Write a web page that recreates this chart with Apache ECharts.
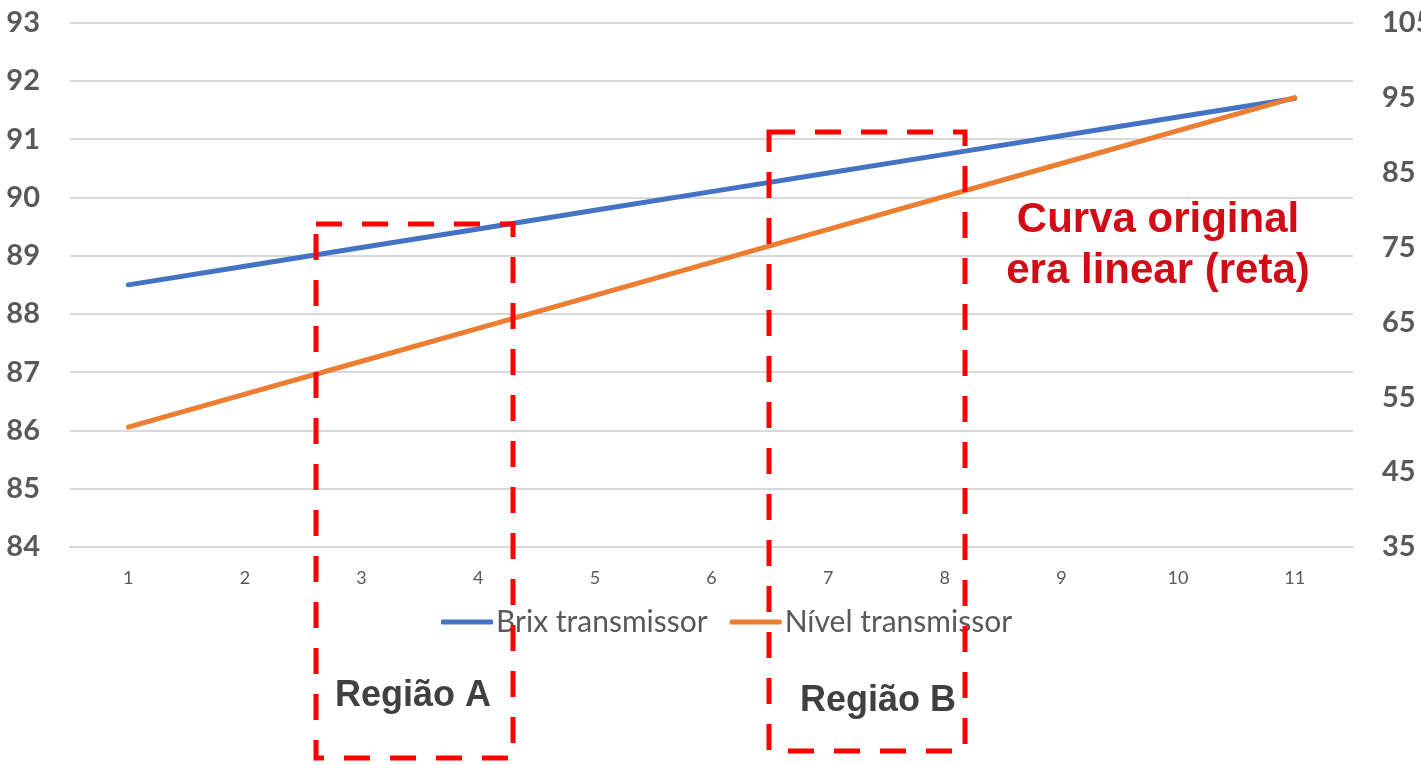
<!DOCTYPE html>
<html>
<head>
<meta charset="utf-8">
<style>
  html, body { margin: 0; padding: 0; background: #fff; }
  #chart { width: 1421px; height: 765px; }
</style>
<script src="https://cdn.jsdelivr.net/npm/echarts@6/dist/echarts.min.js"></script>
</head>
<body>
<div id="chart"></div>
<script>
// Sample index along the x axis
const categories = ['1', '2', '3', '4', '5', '6', '7', '8', '9', '10', '11'];
// Brix transmitter reading (left axis)
const brixValues = [88.5, 88.82, 89.14, 89.46, 89.78, 90.1, 90.42, 90.74, 91.06, 91.38, 91.7];
// Level transmitter reading (right axis)
const nivelValues = [51, 55.4, 59.8, 64.2, 68.6, 73, 77.4, 81.8, 86.2, 90.6, 95];
const seriesNames = ['Brix transmissor', 'Nível transmissor'];
const regionLabels = ['Região A', 'Região B'];
const noteLines = ['Curva original', 'era linear (reta)'];

const chart = echarts.init(document.getElementById('chart'), null, { renderer: 'canvas' });

const axisFont = 'Lato, "Open Sans", sans-serif';
const noteFont = '"Liberation Sans", Arial, sans-serif';
const dashed = { stroke: '#FF0000', lineWidth: 5, lineDash: [26, 20], fill: null };

chart.setOption({
  animation: false,
  backgroundColor: '#ffffff',
  grid: { left: 70, right: 68, top: 22.7, bottom: 218, outerBoundsMode: 'none', containLabel: false },
  legend: {
    data: seriesNames,
    bottom: 123,
    left: 436,
    itemWidth: 52,
    itemHeight: 5,
    itemGap: 22,
    icon: 'roundRect',
    textStyle: { fontFamily: axisFont, fontSize: 30, color: '#595959', padding: [0, 0, 0, -2] }
  },
  xAxis: {
    type: 'category',
    data: categories,
    boundaryGap: true,
    axisLine: { show: true, lineStyle: { color: '#D9D9D9', width: 2 } },
    axisTick: { show: false },
    axisLabel: { color: '#595959', fontFamily: axisFont, fontSize: 18, margin: 22 }
  },
  yAxis: [
    {
      type: 'value',
      min: 84,
      max: 93,
      interval: 1,
      axisLine: { show: false },
      axisTick: { show: false },
      splitLine: { lineStyle: { color: '#D9D9D9', width: 2 } },
      axisLabel: { color: '#595959', fontFamily: axisFont, fontWeight: 'bold', fontSize: 29, margin: 30 }
    },
    {
      type: 'value',
      min: 35,
      max: 105,
      interval: 5,
      position: 'right',
      axisLine: { show: false },
      axisTick: { show: false },
      splitLine: { show: false },
      axisLabel: {
        color: '#595959', fontFamily: axisFont, fontWeight: 'bold', fontSize: 29, margin: 29,
        formatter: v => ((v - 35) % 10 === 0 ? String(v) : '')
      }
    }
  ],
  series: [
    {
      name: seriesNames[0],
      type: 'line',
      yAxisIndex: 0,
      data: brixValues,
      symbol: 'none',
      itemStyle: { color: '#4472C4' },
      lineStyle: { color: '#4472C4', width: 5, cap: 'round' },
      z: 3
    },
    {
      name: seriesNames[1],
      type: 'line',
      yAxisIndex: 1,
      data: nivelValues,
      symbol: 'none',
      itemStyle: { color: '#ED7D31' },
      lineStyle: { color: '#ED7D31', width: 5, cap: 'round' },
      z: 4
    }
  ],
  graphic: [
    { type: 'rect', z: 100, shape: { x: 316, y: 224, width: 197, height: 534 }, style: dashed },
    { type: 'rect', z: 100, shape: { x: 769, y: 132, width: 196, height: 619 }, style: dashed },
    {
      type: 'text', z: 101, x: 413, y: 696,
      style: { text: regionLabels[0], font: 'bold 36px ' + noteFont, fill: '#404040', align: 'center', verticalAlign: 'middle' }
    },
    {
      type: 'text', z: 101, x: 878, y: 701,
      style: { text: regionLabels[1], font: 'bold 36px ' + noteFont, fill: '#404040', align: 'center', verticalAlign: 'middle' }
    },
    {
      type: 'text', z: 101, x: 1158, y: 220,
      style: { text: noteLines[0], font: 'bold 42px ' + noteFont, fill: '#D20C16', align: 'center', verticalAlign: 'middle' }
    },
    {
      type: 'text', z: 101, x: 1158, y: 271,
      style: { text: noteLines[1], font: 'bold 42px ' + noteFont, fill: '#D20C16', align: 'center', verticalAlign: 'middle' }
    }
  ]
});
</script>
</body>
</html>
